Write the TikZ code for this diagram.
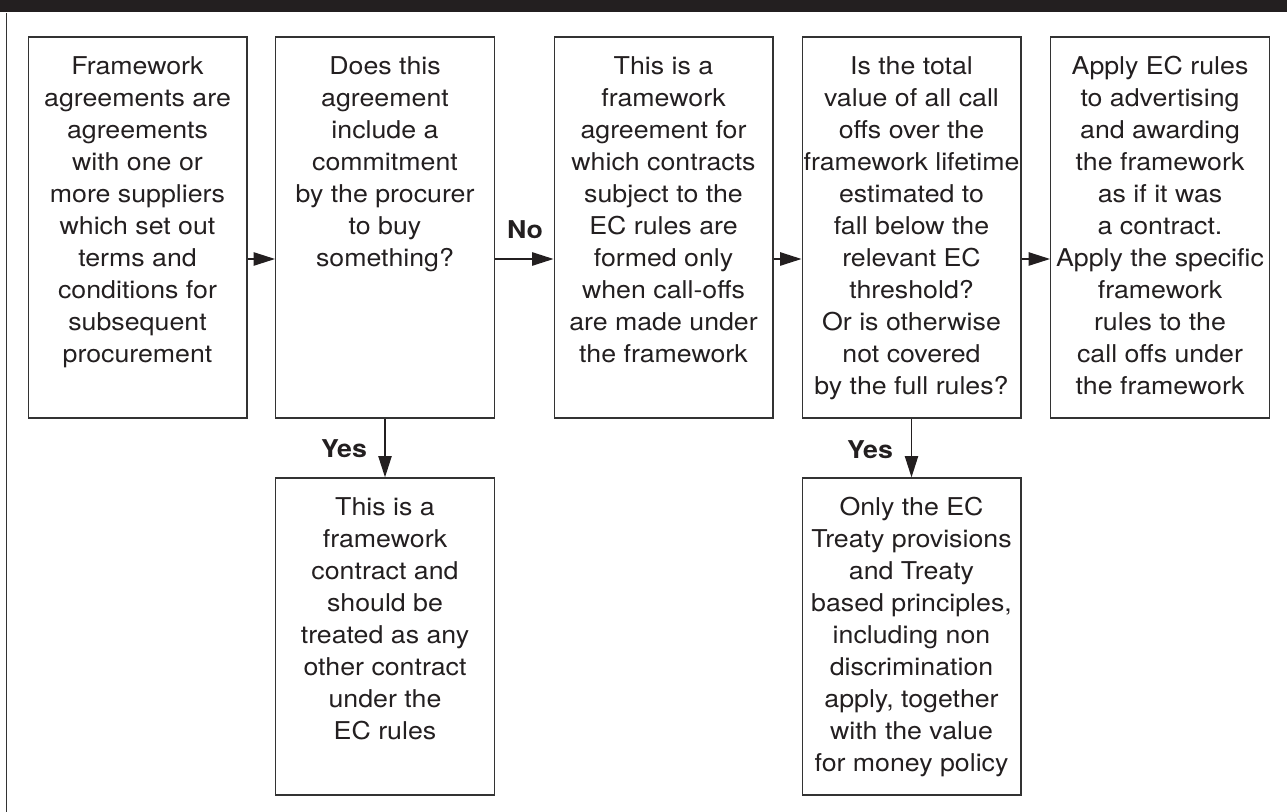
\documentclass[tikz,border=0pt]{standalone}
\usepackage{fontspec}
\setmainfont{TeX Gyre Heros}[FakeStretch=1.09]
\usetikzlibrary{arrows.meta}
\definecolor{ink}{HTML}{231F20}
\definecolor{rule}{HTML}{333333}
% stacked, centred lines whose baseline is the first line's baseline
\newcommand{\boxlines}[1]{\begin{tabular}[t]{@{}c@{}}#1\end{tabular}}
\tikzset{
  pbox/.style={draw=rule, line width=1pt, rectangle, inner sep=0pt,
               minimum width=164pt},
  tallbox/.style={pbox, minimum height=285.75pt},
  lowbox/.style={pbox, minimum height=237.75pt},
  ptext/.style={anchor=base, inner sep=0pt, text=ink,
                font=\fontsize{18.4}{24}\selectfont},
  plabel/.style={inner sep=0pt, text=ink,
                 font=\fontsize{18.4}{24}\selectfont\bfseries},
  flow/.style={draw=ink, line width=1pt,
               -{Triangle[length=16pt,width=10pt]}}
}
\begin{document}
\begin{tikzpicture}[x=0.75pt,y=-0.75pt]
  \useasboundingbox (0,0) rectangle (1287,812);
  % heading bar and left frame rule
  \fill[ink] (0,0) rectangle (1287,12.5);
  \draw[rule, line width=1.1pt] (6.7,13) -- (6.7,812);

  % boxes
  \node[tallbox] (b1) at (137.5,227.5) {};
  \node[tallbox] (b2) at (385,227.5) {};
  \node[tallbox] (b3) at (663.5,227.5) {};
  \node[tallbox] (b4) at (911.5,227.5) {};
  \node[tallbox] (b5) at (1160,227.5) {};
  \node[lowbox] (b6) at (385,636.5) {};
  \node[lowbox] (b7) at (911.5,636.5) {};

  % box texts
  \node[ptext] (t1) at ([yshift=-28.5pt]b1.north) {\boxlines{Framework\\agreements are\\agreements\\with one or\\more suppliers\\which set out\\terms and\\conditions for\\subsequent\\procurement}};
  \node[ptext] (t2) at ([yshift=-28.5pt]b2.north) {\boxlines{Does this\\agreement\\include a\\commitment\\by the procurer\\to buy\\something?}};
  \node[ptext] (t3) at ([yshift=-28.5pt]b3.north) {\boxlines{This is a\\framework\\agreement for\\which contracts\\subject to the\\EC rules are\\formed only\\when call-offs\\are made under\\the framework}};
  \node[ptext] (t4) at ([yshift=-28.5pt]b4.north) {\boxlines{Is the total\\value of all call\\offs over the\\framework lifetime\\estimated to\\fall below the\\relevant EC\\threshold?\\Or is otherwise\\not covered\\by the full rules?}};
  \node[ptext] (t5) at ([yshift=-28.5pt]b5.north) {\boxlines{Apply EC rules\\to advertising\\and awarding\\the framework\\as if it was\\a contract.\\Apply the specific\\framework\\rules to the\\call offs under\\the framework}};
  \node[ptext] (t6) at ([yshift=-28.5pt]b6.north) {\boxlines{This is a\\framework\\contract and\\should be\\treated as any\\other contract\\under the\\EC rules}};
  \node[ptext] (t7) at ([yshift=-28.5pt]b7.north) {\boxlines{Only the EC\\Treaty provisions\\and Treaty\\based principles,\\including non\\discrimination\\apply, together\\with the value\\for money policy}};

  % connectors
  \coordinate (row) at (0,259);
  \draw[flow] (b1.east |- row) -- (b2.west |- row);
  \draw[flow] (b2.east |- row) -- (b3.west |- row);
  \draw[flow] (b3.east |- row) -- (b4.west |- row);
  \draw[flow] (b4.east |- row) -- (b5.west |- row);
  \draw[flow] (b2.south) -- (b6.north);
  \draw[flow] (b4.south) -- (b7.north);

  % branch labels
  \node[plabel] (no) at (525,230) {No};
  \node[plabel] (yes1) at (344,449) {Yes};
  \node[plabel] (yes2) at (870,450) {Yes};
\end{tikzpicture}
\end{document}
